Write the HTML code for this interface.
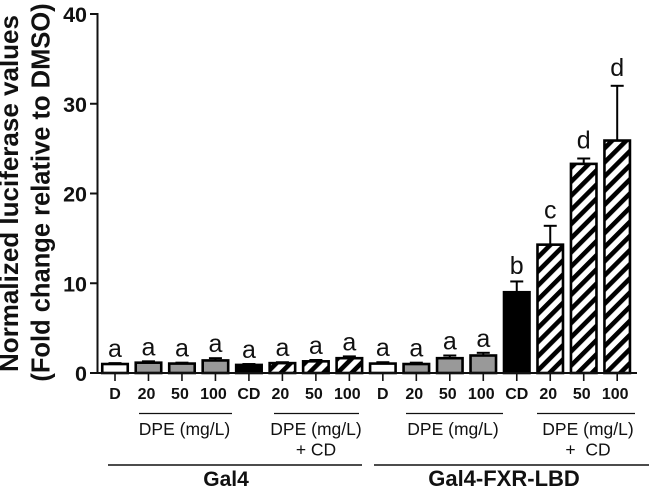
<!DOCTYPE html>
<html>
<head>
<meta charset="utf-8">
<style>
html,body{margin:0;padding:0;background:#fff;overflow:hidden;}
svg{display:block;}
text{font-family:"Liberation Sans",Arial,sans-serif;fill:#111;}
</style>
</head>
<body>
<svg id="chart" width="649" height="487" viewBox="0 0 649 487" xmlns="http://www.w3.org/2000/svg">
<defs>
<pattern id="hatch" patternUnits="userSpaceOnUse" width="10" height="10" patternTransform="rotate(45)">
<rect width="10" height="10" fill="#fff"/>
<rect width="4.6" height="10" fill="#000"/>
</pattern>
</defs>
<g id="marks"></g>
<g id="axes"></g>
<text transform="translate(18,193.5) rotate(-90)" text-anchor="middle" font-size="26" font-weight="bold">Normalized luciferase values</text>
<text transform="translate(49.5,192.5) rotate(-90)" text-anchor="middle" font-size="25.5" font-weight="bold">(Fold change relative to DMSO)</text>
<line x1="139" x2="232" y1="413.5" y2="413.5" stroke="#111" stroke-width="1.2"/>
<line x1="274" x2="359" y1="413.5" y2="413.5" stroke="#111" stroke-width="1.2"/>
<line x1="406" x2="503" y1="413.5" y2="413.5" stroke="#111" stroke-width="1.2"/>
<line x1="537" x2="635" y1="413.5" y2="413.5" stroke="#111" stroke-width="1.2"/>
<text x="184.5" y="435" text-anchor="middle" font-size="17.5">DPE (mg/L)</text>
<text x="316" y="435" text-anchor="middle" font-size="17.5">DPE (mg/L)</text>
<text x="316" y="455.5" text-anchor="middle" font-size="17.5">+ CD</text>
<text x="453" y="435" text-anchor="middle" font-size="17.5">DPE (mg/L)</text>
<text x="588" y="435" text-anchor="middle" font-size="17.5">DPE (mg/L)</text>
<text x="588" y="455.5" text-anchor="middle" font-size="17.5" xml:space="preserve">+  CD</text>
<line x1="108" x2="362" y1="465" y2="465" stroke="#111" stroke-width="1.4"/>
<line x1="374" x2="649" y1="465" y2="465" stroke="#111" stroke-width="1.4"/>
<text x="226" y="486" text-anchor="middle" font-size="21" font-weight="bold">Gal4</text>
<text x="504" y="486" text-anchor="middle" font-size="22" font-weight="bold">Gal4-FXR-LBD</text>
</svg>
<script>
const categories = ["D","20","50","100","CD","20","50","100","D","20","50","100","CD","20","50","100"];
const means = [1.0,1.15,1.05,1.4,0.9,1.1,1.3,1.65,1.05,1.0,1.65,1.95,9.0,14.3,23.3,25.9];
const errors = [0.1,0.15,0.1,0.25,0.1,0.1,0.15,0.2,0.15,0.15,0.3,0.3,1.2,2.1,0.6,6.1];
const fills = ["white","gray","gray","gray","black","hatch","hatch","hatch","white","gray","gray","gray","black","hatch","hatch","hatch"];
const letters = ["a","a","a","a","a","a","a","a","a","a","a","a","b","c","d","d"];
const yTicks = [0,10,20,30,40];

const NS = "http://www.w3.org/2000/svg";
const yScale = v => 373 - v * 8.975;
const xScale = i => 115 + i * 33.48;
const colors = {white:"#fff", gray:"#999", black:"#000", hatch:"url(#hatch)"};

function mk(parent, tag, attrs, txt) {
  const el = document.createElementNS(NS, tag);
  for (const k in attrs) el.setAttribute(k, attrs[k]);
  if (txt !== undefined) el.textContent = txt;
  parent.appendChild(el);
  return el;
}

const marks = document.getElementById("marks");
const axes = document.getElementById("axes");
const BW = 25.5;

means.forEach((m, i) => {
  const x = xScale(i), top = yScale(m), errTop = yScale(m + errors[i]);
  const stem = mk(marks, "line", {x1:x, x2:x, y1:top, y2:errTop, stroke:"#000", "stroke-width":2});
  
  
  const cap = mk(marks, "line", {x1:x-6.5, x2:x+6.5, y1:errTop, y2:errTop, stroke:"#000", "stroke-width":2});
  
  
  const bar = mk(marks, "rect", {x:x-BW/2, y:top, width:BW, height:yScale(0)-top, fill:colors[fills[i]], stroke:"#000", "stroke-width":2.6});
  
  
  const gap = m + errors[i] > 20 ? 10 : (m + errors[i] > 5 ? 7.5 : 6);
  const sig = mk(marks, "text", {x:x, y:errTop-gap, "text-anchor":"middle", "font-size":25}, letters[i]);
  
  
  const tick = mk(axes, "line", {x1:x, x2:x, y1:373, y2:381, stroke:"#111", "stroke-width":1.6});
  
  
  const dx = /\d/.test(categories[i]) ? -2 : 0;
  const lab = mk(axes, "text", {x:x+dx, y:399, "text-anchor":"middle", "font-size":16, "font-weight":"bold"}, categories[i]);
  
  
});

const yAxis = mk(axes, "line", {x1:97.5, x2:97.5, y1:yScale(40)-1, y2:374, stroke:"#111", "stroke-width":2});


const xAxis = mk(axes, "line", {x1:91, x2:637, y1:373, y2:373, stroke:"#111", "stroke-width":2});



yTicks.forEach(t => {
  const y = yScale(t);
  const tk = mk(axes, "line", {x1:90, x2:98, y1:y, y2:y, stroke:"#111", "stroke-width":2});
  
  
  const lb = mk(axes, "text", {x:87, y:y+8, "text-anchor":"end", "font-size":21.5, "font-weight":"bold"}, t);
  
  
});
</script>
</body>
</html>
